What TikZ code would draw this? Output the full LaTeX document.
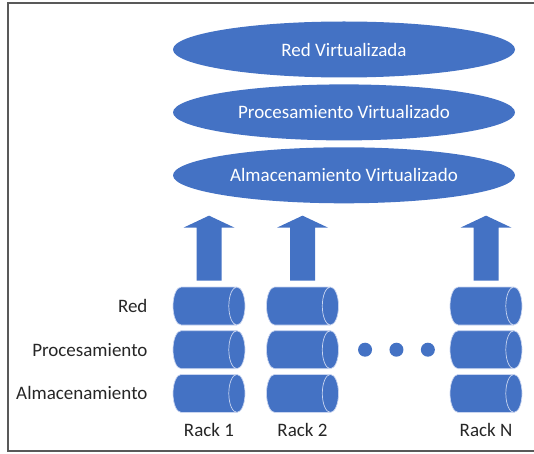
\documentclass[tikz,border=0pt]{standalone}
\usepackage{fontspec}
\setmainfont{Carlito}
\usepackage{tikz}
\usetikzlibrary{calc,positioning,shapes.geometric}
\definecolor{fillblue}{HTML}{4472C4}
\definecolor{rim}{HTML}{C9D5F0}
\definecolor{ink}{HTML}{262626}
\definecolor{frame}{HTML}{595959}
\tikzset{
  layer/.style={ellipse, fill=fillblue, minimum width=342pt, minimum height=56pt, inner sep=0pt, text=white, font=\fontsize{19}{23}\selectfont},
  disk/.style={cylinder, aspect=0.45, fill=fillblue, draw=rim, line width=0.7pt, minimum width=38pt, minimum height=72pt, inner xsep=0pt, inner ysep=18pt},
  dot/.style={circle, fill=fillblue, minimum size=14pt, inner sep=0pt},
  lab/.style={text=ink, font=\fontsize{19}{23}\selectfont, inner sep=2pt},
  lift/.style={fill=fillblue},
}

\begin{document}
\begin{tikzpicture}[x=1pt,y=1pt]
  \useasboundingbox (0,0) rectangle (534,453);
  \draw[frame, line width=2pt] (540,450) -- (8,450) -- (8,2) -- (540,2);
  % virtualized layers
  \node[layer] (red) at (344,403.5) {Red Virtualizada};
  \node[layer, below=6.5pt of red] (proc) {Procesamiento Virtualizado};
  \node[layer, below=6.5pt of proc] (alm) {Almacenamiento Virtualizado};
  % racks
  \foreach \n/\x in {1/209, 2/302.5, N/486} {
    \node[disk, anchor=shape center] (c\n1) at (\x,147) {};
    \node[disk, below=5pt of c\n1] (c\n2) {};
    \node[disk, below=5pt of c\n2] (c\n3) {};
    \node[lab, anchor=north] (rack\n) at ($(c\n3.shape center |- c\n3.south)+(0,-8)$) {Rack \n};
    \fill[lift] ($(c\n1.shape center |- c\n1.north)+(-12.5,6)$) -- ++(25,0) -- ++(0,53)
      -- ++(13,0) -- ++(-25.5,12) -- ++(-25.5,-12) -- ++(13,0) -- cycle;
  }
  \node[lab, left=23pt of c11] (lred) {Red};
  \node[lab, left=23pt of c12] (lproc) {Procesamiento};
  \node[lab, left=23pt of c13] (lalm) {Almacenamiento};
  \node[dot, right=19pt of c22] (d1) {};
  \node[dot, right=17pt of d1] (d2) {};
  \node[dot, right=17pt of d2] (d3) {};
\end{tikzpicture}
\end{document}
